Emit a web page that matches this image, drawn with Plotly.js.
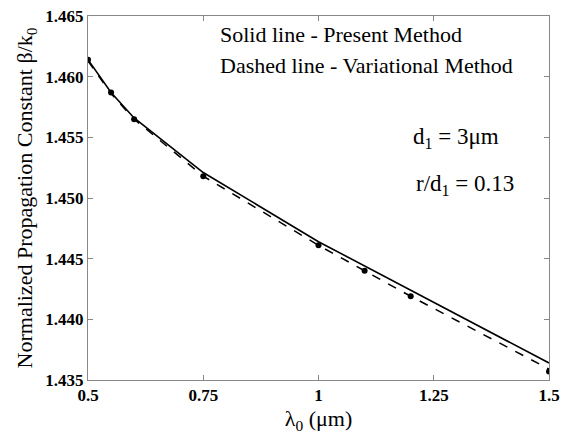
<!DOCTYPE html>
<html>
<head>
<meta charset="utf-8">
<script src="https://cdn.plot.ly/plotly-3.0.1.min.js"></script>
<style>html,body{margin:0;padding:0;background:#fff;}#chart{width:564px;height:434px;}</style>
</head>
<body>
<div id="chart"></div>
<script>
const lambda = [0.5, 0.55, 0.6, 0.75, 1.0, 1.1, 1.2, 1.5];
const presentMethod = [1.4614, 1.4587, 1.4566, 1.4521, 1.4464, 1.4444, 1.4424, 1.4364];
const variationalMethod = [1.4613, 1.4586, 1.4565, 1.4518, 1.4461, 1.4440, 1.4419, 1.4359];
const dataPoints = [1.4614, 1.4587, 1.4565, 1.4518, 1.4461, 1.4440, 1.4419, 1.4357];
const xTickVals = [0.5, 0.75, 1, 1.25, 1.5];
const xTickText = ["0.5", "0.75", "1", "1.25", "1.5"];
const yTickVals = [1.435, 1.44, 1.445, 1.45, 1.455, 1.46, 1.465];
const yTickText = ["1.435", "1.440", "1.445", "1.450", "1.455", "1.460", "1.465"];

const font = "Times New Roman, Liberation Serif, DejaVu Serif, serif";
const traces = [
  {x: lambda, y: variationalMethod, mode: "lines", line: {color: "#000", width: 1.5, dash: "dash"}, name: "Variational"},
  {x: lambda, y: presentMethod, mode: "lines", line: {color: "#000", width: 1.6}, name: "Present"},
  {x: lambda, y: dataPoints, mode: "markers", marker: {color: "#000", size: 6}, name: "Data"}
];
const axisCommon = {
  showgrid: false, zeroline: false, showline: true, linecolor: "#888", linewidth: 1,
  mirror: "ticks", ticks: "inside", ticklen: 5, tickcolor: "#888",
  tickfont: {family: font, size: 17, color: "#000", weight: "bold"}
};
const layout = {
  width: 564, height: 434,
  margin: {l: 88, r: 15, t: 16, b: 54},
  paper_bgcolor: "#fff", plot_bgcolor: "#fff",
  showlegend: false,
  font: {family: font, color: "#000"},
  xaxis: Object.assign({}, axisCommon, {
    range: [0.5, 1.5], tickvals: xTickVals, ticktext: xTickText,
    title: {text: "λ<sub>0</sub> (μm)", font: {family: font, size: 22, color: "#000"}}
  }),
  yaxis: Object.assign({}, axisCommon, {
    range: [1.435, 1.465], tickvals: yTickVals, ticktext: yTickText,
    title: {text: "Normalized Propagation Constant β/k<sub>0</sub>", font: {family: font, size: 22, color: "#000"}, standoff: 6}
  }),
  annotations: [
    {xref: "paper", yref: "paper", x: 0.283, y: 0.948, xanchor: "left", yanchor: "middle", showarrow: false,
     text: "Solid line - Present Method", font: {family: font, size: 22, color: "#000"}},
    {xref: "paper", yref: "paper", x: 0.283, y: 0.864, xanchor: "left", yanchor: "middle", showarrow: false,
     text: "Dashed line - Variational Method", font: {family: font, size: 22, color: "#000"}},
    {xref: "paper", yref: "paper", x: 0.700, y: 0.664, xanchor: "left", yanchor: "middle", showarrow: false,
     text: "d<sub>1</sub> = 3μm", font: {family: font, size: 23, color: "#000"}},
    {xref: "paper", yref: "paper", x: 0.708, y: 0.536, xanchor: "left", yanchor: "middle", showarrow: false,
     text: "r/d<sub>1</sub> = 0.13", font: {family: font, size: 23, color: "#000"}}
  ]
};
Plotly.newPlot("chart", traces, layout, {displayModeBar: false, staticPlot: true});
</script>
</body>
</html>
